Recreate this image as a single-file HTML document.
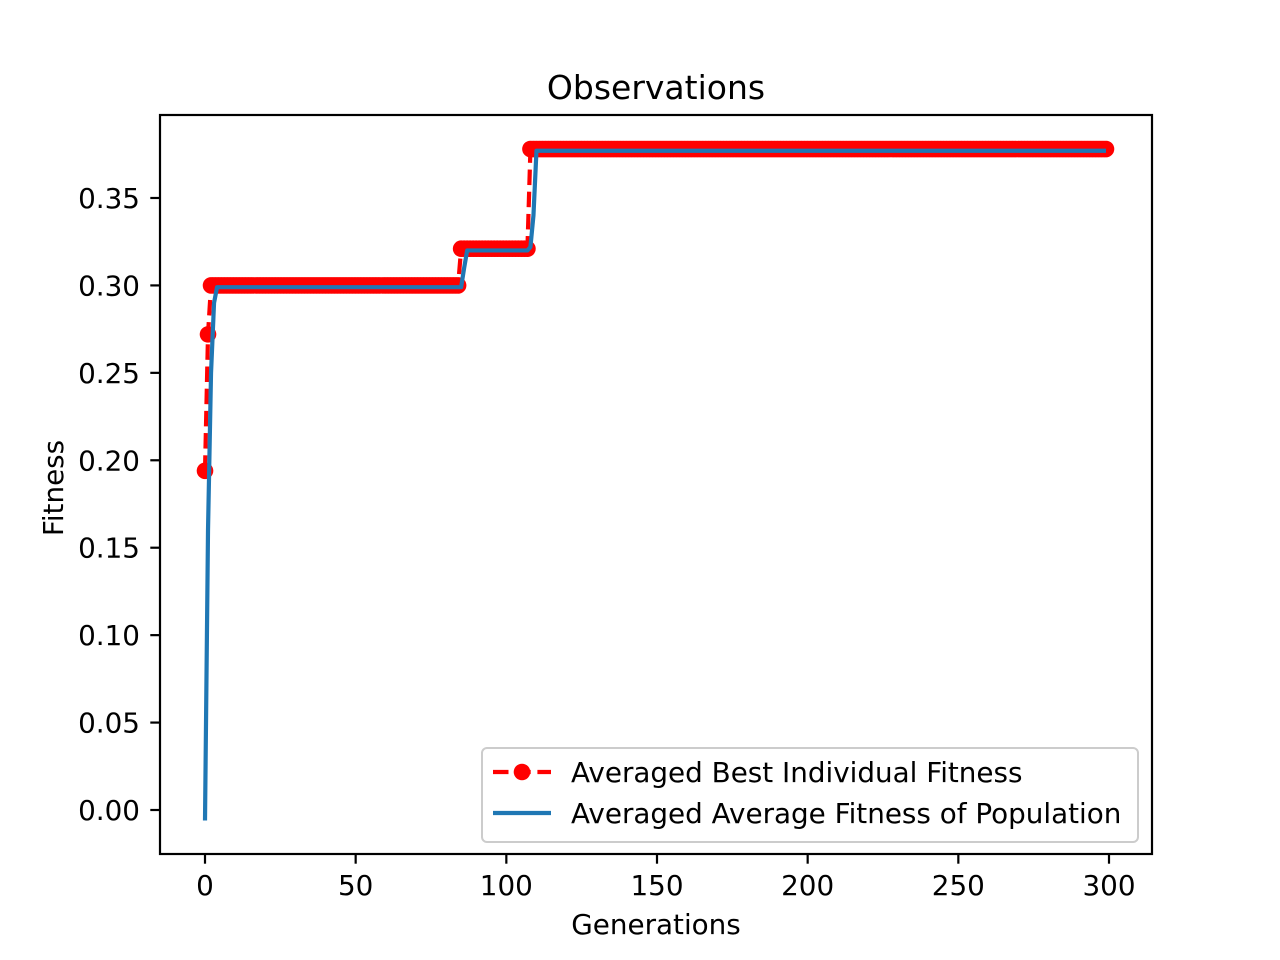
<!DOCTYPE html>
<html><head><meta charset="utf-8"><style>
html,body{margin:0;padding:0;background:#fff;}
svg{display:block;font-family:"DejaVu Sans","Liberation Sans",sans-serif;}
</style></head><body>
<svg id="chart" width="1280" height="960" viewBox="0 0 1280 960"></svg>
<script>
const bestGens=[0,1,2,84,85,107,108,299];
const bestVals=[0.194,0.272,0.300,0.300,0.321,0.321,0.378,0.378];
const avgGens=[0,1,2,3,4,85,86,87,107,108,109,110,299];
const avgVals=[-0.006,0.16,0.25,0.29,0.299,0.299,0.31,0.320,0.320,0.322,0.34,0.377,0.377];
const xTicks=[0,50,100,150,200,250,300];
const yTicks=[0.00,0.05,0.10,0.15,0.20,0.25,0.30,0.35];

const NS="http://www.w3.org/2000/svg";
const svg=document.getElementById('chart');
const L=160,R=1152,T=115,B=854;
function X(v){return 205+(v/300)*904;}
function Y(v){return 810-v*1748.6;}
function mk(tag,attrs,parent){const e=document.createElementNS(NS,tag);for(const k in attrs)e.setAttribute(k,attrs[k]);(parent||svg).appendChild(e);return e;}
function interp(g,vs,gens){for(let i=0;i<gens.length-1;i++){if(g>=gens[i]&&g<=gens[i+1]){const t=(g-gens[i])/(gens[i+1]-gens[i]||1);return vs[i]+t*(vs[i+1]-vs[i]);}}return vs[vs.length-1];}

// title
const title=mk('text',{x:656,y:99,'text-anchor':'middle','font-size':33});
title.textContent='Observations';



// best series: expand to each generation
const bestPts=[];
for(let g=0;g<=299;g++)bestPts.push([g,interp(g,bestVals,bestGens)]);
const bestGroup=mk('g',{});


const bl=mk('polyline',{points:bestPts.map(p=>X(p[0])+','+Y(p[1])).join(' '),fill:'none',stroke:'#ff0000','stroke-width':4.2,'stroke-dasharray':'15.5 6.7'},bestGroup);


for(const p of bestPts){
  const c=mk('circle',{cx:X(p[0]),cy:Y(p[1]),r:8.3,fill:'#ff0000'},bestGroup);
  
  
}
// avg series
const avgLine=mk('polyline',{points:avgGens.map((g,i)=>X(g)+','+Y(avgVals[i])).join(' '),fill:'none',stroke:'#1f77b4','stroke-width':4.2,'stroke-linejoin':'round'});



// axes frame
const frame=mk('rect',{x:L,y:T,width:R-L,height:B-T,fill:'none',stroke:'#000','stroke-width':2.2});



for(const v of xTicks){
  const t=mk('line',{x1:X(v),x2:X(v),y1:B,y2:B+9.7,stroke:'#000','stroke-width':2.2});
  
  
  const l=mk('text',{x:X(v),y:895,'text-anchor':'middle','font-size':27.8});
  l.textContent=String(v);
  
  
}
for(const v of yTicks){
  const t=mk('line',{x1:L-9.7,x2:L,y1:Y(v),y2:Y(v),stroke:'#000','stroke-width':2.2});
  
  
  const l=mk('text',{x:140,y:Y(v)+10,'text-anchor':'end','font-size':27.8});
  l.textContent=v.toFixed(2);
  
  
}
const xl=mk('text',{x:656,y:934,'text-anchor':'middle','font-size':27.8});
xl.textContent='Generations';


const yl=mk('text',{x:0,y:0,'text-anchor':'middle','font-size':27.8,transform:'translate(63,488) rotate(-90)'});
yl.textContent='Fitness';



// legend
const lg=mk('g',{});


mk('rect',{x:482,y:748,width:656,height:94,rx:5,fill:'#fff','fill-opacity':0.8,stroke:'#ccc','stroke-width':2},lg);
mk('line',{x1:493,x2:551,y1:772,y2:772,stroke:'#ff0000','stroke-width':4.2,'stroke-dasharray':'15.5 6.7'},lg);
mk('circle',{cx:522,cy:772,r:8.3,fill:'#ff0000'},lg);
const t1=mk('text',{x:571,y:782,'font-size':27.8},lg);
t1.textContent='Averaged Best Individual Fitness';


mk('line',{x1:493,x2:551,y1:813,y2:813,stroke:'#1f77b4','stroke-width':4.2},lg);
const t2=mk('text',{x:571,y:823,'font-size':27.8},lg);
t2.textContent='Averaged Average Fitness of Population';


</script>
</body></html>
